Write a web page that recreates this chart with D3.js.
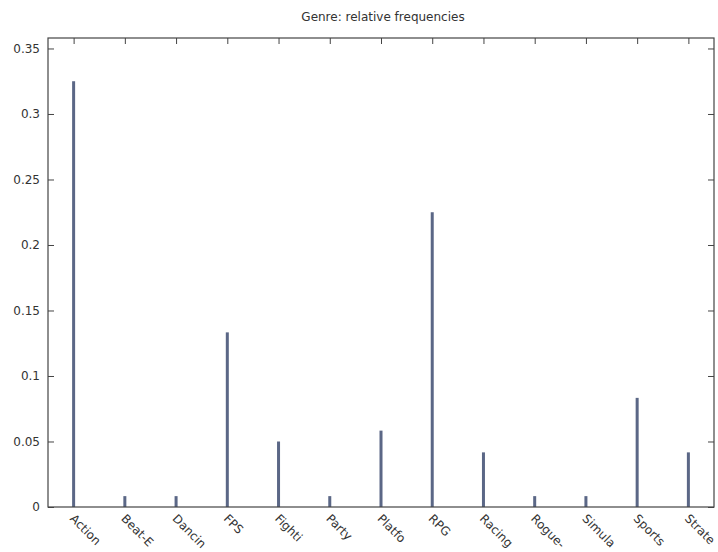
<!DOCTYPE html>
<html>
<head>
<meta charset="utf-8">
<script src="https://cdn.jsdelivr.net/npm/d3@7"></script>
<style>
  html, body { margin: 0; padding: 0; background: #fff; }
  svg { display: block; }
  text { font-family: "DejaVu Sans", Verdana, sans-serif; fill: #333; }
</style>
</head>
<body>
<svg id="chart" width="718" height="552"></svg>
<script>
const categories = ["Action", "Beat-E", "Dancin", "FPS", "Fighti", "Party", "Platfo", "RPG", "Racing", "Rogue-", "Simula", "Sports", "Strate"];
const values = [0.325, 0.0083, 0.0083, 0.1333, 0.05, 0.0083, 0.0583, 0.225, 0.0417, 0.0083, 0.0083, 0.0833, 0.0417];
const yTicks = [0, 0.05, 0.1, 0.15, 0.2, 0.25, 0.3, 0.35];
const yTickLabels = ["0", "0.05", "0.1", "0.15", "0.2", "0.25", "0.3", "0.35"];
const title = "Genre: relative frequencies";

(function () {
const svg = d3.select("#chart");
const margin = { left: 48, right: 4, top: 38, bottom: 45 };
const W = 718, H = 552;
const x0 = margin.left, x1 = W - margin.right, y0 = H - margin.bottom, y1 = margin.top;

const x = d3.scalePoint().domain(categories).range([x0, x1]).padding(0.5);
const y = d3.scaleLinear().domain([0, 0.358]).range([y0, y1]);

// Title
svg.append("text")
  .attr("x", (x0 + x1) / 2 + 2).attr("y", 21)
  .attr("text-anchor", "middle")
  .style("font-size", "12px")
  .text(title);

// Bars (impulses)
svg.append("g").selectAll("rect").data(values).join("rect")
  .attr("x", (d, i) => x(categories[i]) - 1.5)
  .attr("width", 3)
  .attr("y", d => y(d))
  .attr("height", d => y(0) - y(d))
  .attr("fill", "#5b6786");

// Left axis (ticks inward)
const leftAx = svg.append("g").attr("transform", `translate(${x0},0)`)
  .call(d3.axisRight(y).tickValues(yTicks).tickSize(6).tickFormat(""));
leftAx.select(".domain").remove();
leftAx.selectAll("line").attr("stroke", "#444");

svg.append("g").selectAll("text").data(yTicks).join("text")
  .attr("x", x0 - 8).attr("y", d => y(d))
  .attr("dy", "0.35em")
  .attr("text-anchor", "end")
  .style("font-size", "12px")
  .text((d, i) => yTickLabels[i]);

// Right axis ticks (inward)
const rightAx = svg.append("g").attr("transform", `translate(${x1},0)`)
  .call(d3.axisLeft(y).tickValues(yTicks).tickSize(6).tickFormat(""));
rightAx.select(".domain").remove();
rightAx.selectAll("line").attr("stroke", "#444");

// Top axis ticks (inward)
const topAx = svg.append("g").attr("transform", `translate(0,${y1})`)
  .call(d3.axisBottom(x).tickSize(6).tickFormat(""));
topAx.select(".domain").remove();
topAx.selectAll("line").attr("stroke", "#444");

// Bottom category labels
svg.append("g").selectAll("text").data(categories).join("text")
  .attr("transform", d => `translate(${x(d) + 2},${y0 + 6}) rotate(45)`)
  .attr("dy", "0.75em")
  .attr("text-anchor", "start")
  .style("font-size", "12px")
  .text(d => d);

// Frame
svg.append("rect")
  .attr("x", x0).attr("y", y1)
  .attr("width", x1 - x0).attr("height", y0 - y1)
  .attr("fill", "none").attr("stroke", "#444").attr("stroke-width", 1.2);
})();
</script>
</body>
</html>
